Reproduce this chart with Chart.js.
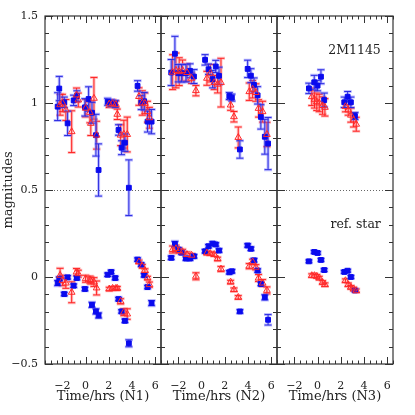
<!DOCTYPE html>
<html>
<head>
<meta charset="utf-8">
<script src="https://cdn.jsdelivr.net/npm/chart.js@4"></script>
<style>
  body { margin: 0; background: #fff; }
  #wrap { position: relative; width: 415px; height: 415px; }
  #wrap canvas { position: absolute; left: 0; top: 0; }
</style>
</head>
<body>
<div id="wrap">
  <canvas id="n1" width="415" height="415"></canvas>
  <canvas id="n2" width="415" height="415"></canvas>
  <canvas id="n3" width="415" height="415"></canvas>
</div>
<script>
// tick labels
const xTicks = [-2, 0, 2, 4, 6];
const yTicks = [-0.5, 0, 0.5, 1, 1.5];
const nightLabels = ['Time/hrs (N1)', 'Time/hrs (N2)', 'Time/hrs (N3)'];
const starLabels = ['2M1145', 'ref. star'];

// night 1 - blue squares
const n1BlueTime = [-2.41, -2.27, -1.84, -1.55, -1.03, -0.75, -0.06, 0.26, 0.55, 0.89, 1.12, 1.9, 2.2, 2.55, 2.84, 3.10, 3.39, 3.73, 4.48, 4.8, 5.05, 5.34, 5.69];
const n1BlueMag = [0.979, 1.083, 1.004, 0.883, 1.015, 1.04, 0.975, 1.023, 0.944, 0.815, 0.615, 1.007, 1.0, 0.995, 0.845, 0.743, 0.772, 0.513, 1.098, 1.002, 1.01, 0.893, 0.893];
const n1BlueErr = [0.08, 0.07, 0.03, 0.07, 0.03, 0.03, 0.05, 0.07, 0.06, 0.12, 0.15, 0.02, 0.02, 0.02, 0.03, 0.04, 0.05, 0.16, 0.03, 0.04, 0.05, 0.06, 0.07];
const n1BlueRef = [-0.035, -0.01, -0.098, -0.002, -0.05, -0.006, -0.069, null, -0.16, -0.198, -0.221, 0.013, 0.029, -0.006, -0.127, -0.198, -0.252, -0.381, 0.10, 0.071, 0.01, -0.058, -0.15];
const n1BlueRefErr = [0.015, 0.01, 0.01, 0.01, 0.01, 0.01, 0.01, null, 0.015, 0.015, 0.015, 0.01, 0.01, 0.01, 0.01, 0.01, 0.01, 0.02, 0.01, 0.01, 0.01, 0.01, 0.015];
// night 1 - red triangles
const n1RedTime = [-2.2, -2.0, -1.7, -1.2, -0.78, -0.63, 0.0, 0.37, 0.45, 0.72, 0.95, 2.04, 2.33, 2.61, 2.73, 3.02, 3.30, 3.59, 4.6, 4.89, 5.11, 5.34, 5.5];
const n1RedMag = [0.99, 1.0, 0.96, 0.835, 1.046, 1.017, 0.97, 0.946, 0.883, 1.027, 0.815, 0.994, 0.998, 0.992, 0.935, 0.815, 0.821, 0.819, 1.037, 1.0, 0.998, 0.95, 0.915];
const n1RedErr = [0.06, 0.05, 0.06, 0.12, 0.04, 0.04, 0.05, 0.06, 0.07, 0.12, 0.08, 0.02, 0.02, 0.02, 0.03, 0.06, 0.08, 0.1, 0.05, 0.07, 0.06, 0.06, 0.06];
const n1RedRef = [0.01, -0.02, -0.035, -0.088, 0.029, 0.019, -0.01, -0.015, -0.02, -0.029, -0.063, -0.069, -0.065, -0.065, -0.065, -0.14, -0.202, -0.213, 0.087, 0.062, 0.037, -0.006, -0.044];
const n1RedRefErr = [0.04, 0.03, 0.03, 0.06, 0.02, 0.02, 0.02, 0.02, 0.02, 0.025, 0.04, 0.01, 0.01, 0.01, 0.01, 0.015, 0.02, 0.03, 0.01, 0.01, 0.01, 0.01, 0.015];

// night 2 - blue squares
const n2BlueTime = [-2.62, -2.30, -2.01, -1.72, -1.35, -1.0, -0.66, 0.30, 0.60, 0.95, 1.22, 1.50, 2.39, 2.61, 3.3, 3.97, 4.25, 4.52, 4.83, 5.11, 5.45, 5.73];
const n2BlueMag = [1.175, 1.283, 1.171, 1.171, 1.171, 1.185, 1.152, 1.248, 1.194, 1.137, 1.21, 1.156, 1.04, 1.031, 0.733, 1.196, 1.157, 1.104, 1.044, 0.92, 0.806, 0.767];
const n2BlueErr = [0.075, 0.1, 0.05, 0.05, 0.05, 0.04, 0.04, 0.03, 0.03, 0.05, 0.035, 0.05, 0.02, 0.02, 0.05, 0.05, 0.04, 0.04, 0.05, 0.07, 0.1, 0.15];
const n2BlueRef = [0.11, 0.19, 0.158, 0.14, 0.106, 0.106, 0.119, 0.148, 0.177, 0.192, 0.187, 0.152, 0.027, 0.033, -0.198, 0.181, 0.162, 0.096, 0.037, -0.04, -0.117, -0.246];
const n2BlueRefErr = [0.01, 0.015, 0.01, 0.01, 0.01, 0.01, 0.01, 0.01, 0.01, 0.01, 0.01, 0.01, 0.01, 0.01, 0.01, 0.01, 0.01, 0.01, 0.01, 0.01, 0.015, 0.03];
// night 2 - red triangles
const n2RedTime = [-2.5, -2.21, -1.93, -1.64, -1.26, -0.86, -0.49, 0.46, 0.75, 1.09, 1.38, 1.67, 2.5, 2.79, 3.16, 4.11, 4.40, 4.68, 4.91, 5.26, 5.63];
const n2RedMag = [1.177, 1.187, 1.18, 1.187, 1.175, 1.142, 1.071, 1.142, 1.171, 1.117, 1.108, 1.117, 0.988, 0.921, 0.802, 1.065, 1.079, 1.06, 0.969, 0.95, 0.819];
const n2RedErr = [0.1, 0.1, 0.08, 0.06, 0.05, 0.03, 0.03, 0.04, 0.05, 0.04, 0.05, 0.14, 0.03, 0.03, 0.06, 0.05, 0.05, 0.05, 0.05, 0.06, 0.07];
const n2RedRef = [0.158, 0.163, 0.152, 0.144, 0.129, 0.125, 0.004, 0.138, 0.135, 0.129, 0.104, 0.046, -0.029, -0.073, -0.117, 0.062, 0.087, 0.056, -0.006, -0.035, -0.077];
const n2RedRefErr = [0.02, 0.02, 0.015, 0.015, 0.015, 0.01, 0.02, 0.01, 0.01, 0.01, 0.01, 0.015, 0.01, 0.01, 0.01, 0.015, 0.015, 0.015, 0.02, 0.02, 0.02];

// night 3 - blue squares
const n3BlueTime = [-0.75, -0.29, 0.0, 0.29, 0.57, 2.3, 2.59, 2.87, 3.22];
const n3BlueMag = [1.084, 1.119, 1.1, 1.151, 1.017, 1.004, 1.036, 1.004, 0.925];
const n3BlueErr = [0.03, 0.04, 0.03, 0.04, 0.04, 0.03, 0.03, 0.03, 0.02];
const n3BlueRef = [0.09, 0.144, 0.138, 0.098, 0.04, 0.029, 0.036, 0.0, -0.077];
const n3BlueRefErr = [0.008, 0.008, 0.008, 0.008, 0.008, 0.008, 0.008, 0.008, 0.008];
// night 3 - red triangles
const n3RedTime = [-0.5, -0.27, -0.07, 0.14, 0.43, 0.63, 2.4, 2.64, 2.87, 3.1, 3.33];
const n3RedMag = [1.036, 1.021, 1.007, 1.0, 0.985, 0.975, 0.979, 0.96, 0.93, 0.902, 0.878];
const n3RedErr = [0.05, 0.05, 0.05, 0.05, 0.05, 0.05, 0.03, 0.03, 0.04, 0.04, 0.04];
const n3RedRef = [0.008, 0.008, 0.004, -0.006, -0.031, -0.044, -0.021, -0.044, -0.059, -0.069, -0.079];
const n3RedRefErr = [0.01, 0.01, 0.01, 0.01, 0.01, 0.01, 0.01, 0.01, 0.01, 0.01, 0.01];

const FONT = 'DejaVu Serif';
const INK = '#222';
const BLUE = '#0a0aee';
const RED = '#ff2a2a';

function fmt(v) {
    return v < 0 ? '\u2212' + Math.abs(v) : String(v);
}

function points(times, mags, errs) {
    const out = [];
    times.forEach((t, i) => {
        if (mags[i] == null) return;
        out.push({ x: t, y: mags[i], err: errs[i] });
    });
    return out;
}

function blueSet(data) {
    return {
        data: data, pointStyle: 'rect', pointRadius: 3.4,
        backgroundColor: BLUE, borderColor: BLUE, borderWidth: 1,
        barColor: '#2a2ae0', haloColor: 'rgba(110,110,255,0.45)'
    };
}

function redSet(data) {
    return {
        data: data, pointStyle: 'triangle', pointRadius: 3.9,
        backgroundColor: 'rgba(255,255,255,0)', borderColor: RED, borderWidth: 1,
        barColor: '#ff2020', haloColor: 'rgba(255,120,120,0.45)'
    };
}

// vertical error bars with small caps, drawn under the markers
const errorBars = {
    id: 'errorBars',
    beforeDatasetsDraw(chart) {
        const ctx = chart.ctx;
        const xs = chart.scales.x, ys = chart.scales.y;
        ctx.save();
        chart.data.datasets.forEach(ds => {
            ds.data.forEach(p => {
                if (!p.err) return;
                const x = xs.getPixelForValue(p.x);
                const top = ys.getPixelForValue(p.y + p.err);
                const bot = ys.getPixelForValue(p.y - p.err);
                [[ds.haloColor, 3, 4], [ds.barColor, 1, 3.5]].forEach(([c, w, cap]) => {
                    ctx.strokeStyle = c;
                    ctx.lineWidth = w;
                    ctx.beginPath();
                    ctx.moveTo(x, top); ctx.lineTo(x, bot);
                    ctx.moveTo(x - cap, top); ctx.lineTo(x + cap, top);
                    ctx.moveTo(x - cap, bot); ctx.lineTo(x + cap, bot);
                    ctx.stroke();
                });
            });
        });
        ctx.restore();
    }
};

// box, inward ticks on all sides, dotted line at 0.5
const frame = {
    id: 'frame',
    beforeDatasetsDraw(chart) {
        const ctx = chart.ctx;
        const a = chart.chartArea;
        const y = Math.round(chart.scales.y.getPixelForValue(0.5)) + 0.5;
        ctx.save();
        ctx.strokeStyle = '#666';
        ctx.lineWidth = 1;
        ctx.setLineDash([1, 2]);
        ctx.beginPath();
        ctx.moveTo(a.left, y); ctx.lineTo(a.right, y);
        ctx.stroke();
        ctx.restore();
    },
    afterDraw(chart) {
        const ctx = chart.ctx;
        const a = chart.chartArea;
        const xs = chart.scales.x, ys = chart.scales.y;
        ctx.save();
        ctx.strokeStyle = '#333';
        ctx.lineWidth = 1.2;
        ctx.strokeRect(a.left, a.top, a.right - a.left, a.bottom - a.top);
        ctx.lineWidth = 1;
        ctx.beginPath();
        for (let v = -3.5; v <= 6.5001; v += 0.5) {
            const px = Math.round(xs.getPixelForValue(v)) + 0.5;
            const len = Math.abs(v % 2) < 1e-6 ? 7 : 3.5;
            ctx.moveTo(px, a.bottom); ctx.lineTo(px, a.bottom - len);
            ctx.moveTo(px, a.top); ctx.lineTo(px, a.top + len);
        }
        for (let i = -5; i <= 15; i++) {
            const py = Math.round(ys.getPixelForValue(i / 10)) + 0.5;
            const len = i % 5 === 0 ? 8 : 4;
            ctx.moveTo(a.left, py); ctx.lineTo(a.left + len, py);
            ctx.moveTo(a.right, py); ctx.lineTo(a.right - len, py);
        }
        ctx.stroke();
        ctx.restore();
    }
};

// star names, right aligned inside the last panel
const starNames = {
    id: 'starNames',
    afterDraw(chart) {
        if (!chart.options.plugins.starNames.show) return;
        const ctx = chart.ctx;
        const xs = chart.scales.x, ys = chart.scales.y;
        ctx.save();
        ctx.fillStyle = INK;
        ctx.font = '12.5px "' + FONT + '"';
        ctx.textAlign = 'right';
        ctx.textBaseline = 'middle';
        ctx.fillText(starLabels[0], xs.getPixelForValue(5.45), ys.getPixelForValue(1.3));
        ctx.fillText(starLabels[1], xs.getPixelForValue(5.45), ys.getPixelForValue(0.3));
        ctx.restore();
    }
};

function makePanel(id, night, pad, showY, blue, red) {
    const ctx = document.getElementById(id).getContext('2d');
    return new Chart(ctx, {
        type: 'scatter',
        data: {
            datasets: [
                redSet(points(red.t, red.m, red.e)),
                blueSet(points(blue.t, blue.m, blue.e)),
                redSet(points(red.t, red.r, red.re)),
                blueSet(points(blue.t, blue.r, blue.re))
            ]
        },
        options: {
            responsive: false,
            animation: false,
            devicePixelRatio: 1,
            events: [],
            layout: { padding: { left: pad[0], right: pad[1], top: 16, bottom: 0 } },
            plugins: {
                legend: { display: false },
                tooltip: { enabled: false },
                starNames: { show: night === 3 }
            },
            scales: {
                x: {
                    type: 'linear', min: -3.5, max: 6.5,
                    afterBuildTicks: s => { s.ticks = xTicks.map(v => ({ value: v })); },
                    afterFit: s => { s.height = 51; },
                    grid: { display: false, tickLength: 0 },
                    border: { display: false },
                    ticks: { font: { family: FONT, size: 11 }, color: INK, padding: 16, maxRotation: 0, autoSkip: false, callback: fmt },
                    title: { display: true, text: nightLabels[night - 1], font: { family: FONT, size: 13 }, color: INK, padding: { top: 0, bottom: 11 } }
                },
                y: {
                    display: showY,
                    min: -0.5, max: 1.5,
                    afterBuildTicks: s => { s.ticks = yTicks.map(v => ({ value: v })); },
                    afterFit: s => { s.width = showY ? 45 : 0; },
                    grid: { display: false, tickLength: 0 },
                    border: { display: false },
                    ticks: { font: { family: FONT, size: 11 }, color: INK, padding: 7, callback: fmt },
                    title: { display: true, text: 'magnitudes', font: { family: FONT, size: 13 }, color: INK, padding: { top: 1, bottom: 0 } }
                }
            }
        },
        plugins: [frame, errorBars, starNames]
    });
}

makePanel('n1', 1, [0, 254], true,
    { t: n1BlueTime, m: n1BlueMag, e: n1BlueErr, r: n1BlueRef, re: n1BlueRefErr },
    { t: n1RedTime, m: n1RedMag, e: n1RedErr, r: n1RedRef, re: n1RedRefErr });
makePanel('n2', 2, [161, 138], false,
    { t: n2BlueTime, m: n2BlueMag, e: n2BlueErr, r: n2BlueRef, re: n2BlueRefErr },
    { t: n2RedTime, m: n2RedMag, e: n2RedErr, r: n2RedRef, re: n2RedRefErr });
makePanel('n3', 3, [277, 22], false,
    { t: n3BlueTime, m: n3BlueMag, e: n3BlueErr, r: n3BlueRef, re: n3BlueRefErr },
    { t: n3RedTime, m: n3RedMag, e: n3RedErr, r: n3RedRef, re: n3RedRefErr });
</script>
</body>
</html>
